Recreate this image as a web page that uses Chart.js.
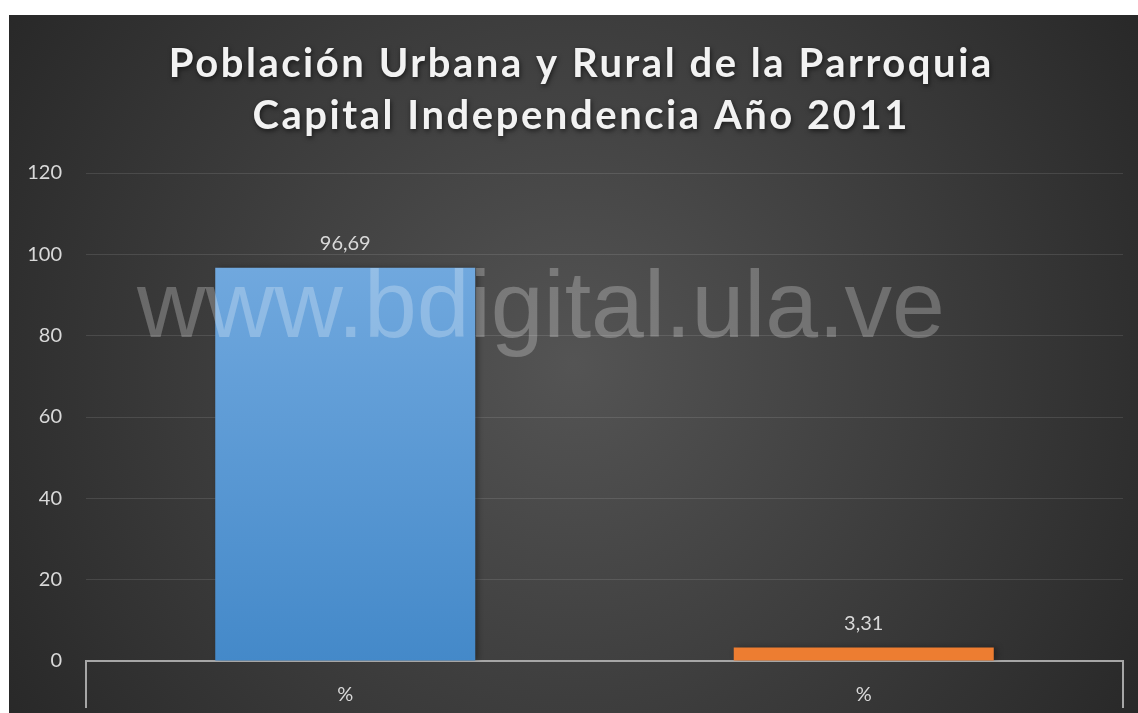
<!DOCTYPE html>
<html>
<head>
<meta charset="utf-8">
<script src="https://cdn.jsdelivr.net/npm/chart.js@4/dist/chart.umd.min.js"></script>
<style>
  body { margin: 0; background: #ffffff; }
  #wrap { position: absolute; left: 9px; top: 15px; width: 1129px; height: 698px; }
</style>
</head>
<body>
<div id="wrap"><canvas id="myChart"></canvas></div>
<script>
'use strict';

// chart data
let categories = ['%', '%'];
let seriesNames = ['Urbana', 'Rural'];
let values = [96.69, 3.31];
let yTicks = [0, 20, 40, 60, 80, 100, 120];
let titleLines = ['Población Urbana y Rural de la Parroquia', 'Capital Independencia Año 2011'];
let watermark = 'www.bdigital.ula.ve';

let labelColor = '#d9d9d9';

///////////////////////////// background + title /////////////////////////////
let backgroundPlugin = {
  id: 'background',
  beforeDraw(chart) {
    let ctx = chart.ctx;
    let w = chart.width, h = chart.height;
    let g = ctx.createRadialGradient(w * 0.5, h * 0.5, 0, w * 0.5, h * 0.5, w * 0.62);
    g.addColorStop(0, 'rgb(84,84,84)');
    g.addColorStop(1, 'rgb(38,38,38)');
    ctx.save();
    ctx.fillStyle = g;
    ctx.fillRect(0, 0, w, h);
    ctx.restore();
  },
  afterDraw(chart) {
    let ctx = chart.ctx;
    ctx.save();
    ctx.font = 'bold 40px Lato';
    ctx.fillStyle = '#f2f2f2';
    ctx.textAlign = 'center';
    ctx.textBaseline = 'alphabetic';
    ctx.shadowColor = 'rgba(0,0,0,0.6)';
    ctx.shadowBlur = 5;
    ctx.shadowOffsetX = 1;
    ctx.shadowOffsetY = 2;
    // spread the first line to the width seen in the picture
    ctx.letterSpacing = '0px';
    let w0 = ctx.measureText(titleLines[0]).width;
    let spacing = (825 - w0) / titleLines[0].length;
    ctx.letterSpacing = spacing.toFixed(2) + 'px';
    let cx = 571 + spacing / 2;
    ctx.fillText(titleLines[0], cx, 62);
    ctx.fillText(titleLines[1], cx, 114);
    ctx.restore();
  }
};

///////////////////////////// bar shadow, watermark, value labels /////////////////////////////
let labelsPlugin = {
  id: 'barLabels',
  beforeDatasetsDraw(chart) {
    let ctx = chart.ctx;
    ctx.save();
    ctx.shadowColor = 'rgba(0,0,0,0.35)';
    ctx.shadowBlur = 6;
    ctx.shadowOffsetX = 3;
    ctx.shadowOffsetY = 0;
  },
  afterDatasetsDraw(chart) {
    let ctx = chart.ctx;
    ctx.restore();

    // watermark
    ctx.save();
    ctx.font = '95px "Liberation Sans"';
    ctx.fillStyle = 'rgba(255,255,255,0.25)';
    ctx.textAlign = 'left';
    ctx.textBaseline = 'alphabetic';
    ctx.fillText(watermark, 128, 322);
    ctx.restore();

    // values above bars
    ctx.save();
    ctx.font = '20px Lato';
    ctx.fillStyle = labelColor;
    ctx.textAlign = 'center';
    ctx.textBaseline = 'alphabetic';
    let meta = chart.getDatasetMeta(0);
    meta.data.forEach(function (bar, i) {
      let txt = values[i].toFixed(2).replace('.', ',');
      ctx.fillText(txt, bar.x, bar.y - 18);
    });
    ctx.restore();
  }
};

function barColor(context) {
  let chart = context.chart;
  let area = chart.chartArea;
  if (context.dataIndex === 1) return 'rgb(237,125,49)';
  if (!area) return 'rgb(91,155,213)';
  let top = chart.scales.y.getPixelForValue(values[0]);
  let g = chart.ctx.createLinearGradient(0, top, 0, area.bottom);
  g.addColorStop(0, 'rgb(112,168,222)');
  g.addColorStop(1, 'rgb(68,137,201)');
  return g;
}

let ctx = document.getElementById('myChart');

let myChart = new Chart(ctx, {
  type: 'bar',
  data: {
    labels: categories,
    datasets: [{
      label: seriesNames.join(' / '),
      data: values,
      backgroundColor: barColor,
      borderWidth: 0,
      categoryPercentage: 1,
      barPercentage: 0.5015
    }]
  },
  options: {
    responsive: true,
    maintainAspectRatio: false,
    animation: false,
    layout: { padding: { top: 158, right: 15, bottom: 0, left: 0 } },
    plugins: {
      legend: { display: false },
      title: { display: false },
      tooltip: { enabled: false }
    },
    scales: {
      x: {
        afterFit(s) { s.height = 52; },
        grid: {
          display: true,
          offset: true,
          drawOnChartArea: false,
          drawTicks: true,
          tickLength: 47,
          color(c) { return c.index === 1 ? 'rgba(0,0,0,0)' : '#a6a6a6'; },
          tickColor(c) { return c.index === 1 ? 'rgba(0,0,0,0)' : '#a6a6a6'; },
          lineWidth: 2,
          tickWidth: 2
        },
        border: { display: true, color: '#a6a6a6', width: 2 },
        ticks: {
          color: labelColor,
          font: { family: 'Lato', size: 20 },
          padding: -25
        }
      },
      y: {
        min: yTicks[0],
        max: yTicks[yTicks.length - 1],
        afterFit(s) { s.width = 77; },
        afterBuildTicks(s) { s.ticks = yTicks.map(function (v) { return { value: v }; }); },
        grid: {
          color: 'rgba(255,255,255,0.11)',
          lineWidth: 1,
          drawTicks: false
        },
        border: { display: false },
        ticks: {
          color: labelColor,
          font: { family: 'Lato', size: 20 },
          padding: 24
        }
      }
    }
  },
  plugins: [backgroundPlugin, labelsPlugin]
});
</script>
</body>
</html>
